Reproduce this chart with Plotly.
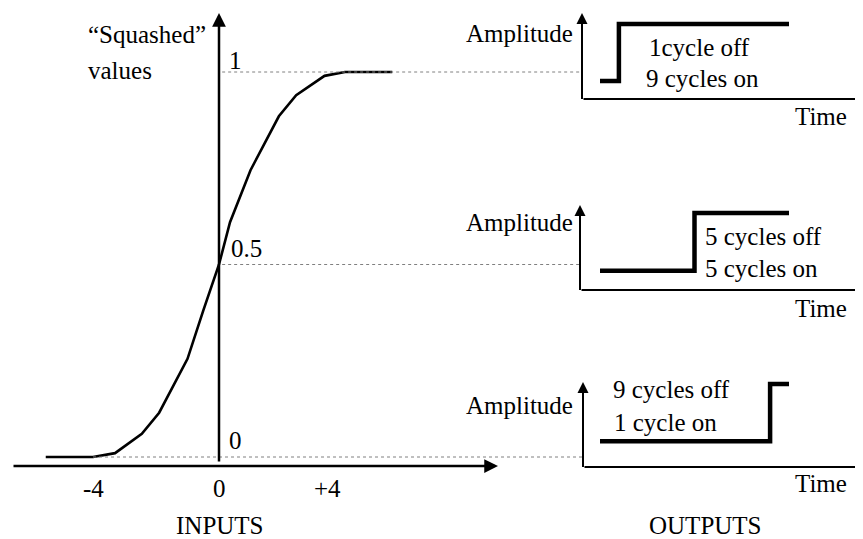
import plotly.graph_objects as go

W, H = 863, 539

# ---- Data: sigmoid ("squashed") curve ----
inputs = [-5.5, -4, -3.3, -2.45, -1.9, -1.0, -0.5, 0, 0.35, 1.0, 1.9, 2.45, 3.35, 4, 5.5]
squashed = [0, 0, 0.01, 0.06, 0.115, 0.255, 0.38, 0.5, 0.61, 0.745, 0.885, 0.94, 0.99, 1, 1]
input_tick_labels = ["-4", "0", "+4"]
squash_levels = [1, 0.5, 0]
squash_labels = ["1", "0.5", "0"]

# ---- Data: output pulse trains (out of 10 cycles) ----
cycles_total = 10
cycles_off = [1, 5, 9]
amp_low = [0.24, 0.25, 0.31]
amp_high = [1, 1, 1]
label_off = ["1cycle off", "5 cycles off", "9 cycles off"]
label_on = ["9 cycles on", "5 cycles on", "1 cycle on"]

FONT = "Liberation Serif"
FS = 25

# The page body has an 8px margin: the figure's top-left sits at (8, 8).
OFF = 8

# ---- Layout geometry (page pixels) ----
X0, XS = 219, 31.5      # left chart: input 0 at px 219, 31.5 px per unit
Y0, YS = 457, 385       # left chart: value 0 at px 457, 385 px per unit
CX0, CXS = 600, 18.9    # right charts: cycle 0 at px 600
panel_axis_px = [99, 290, 467]
panel_high_px = [24, 213, 384]
panel_yaxis_px = [582, 580, 583]
panel_arrow_top = [13, 205, 382]


def lx(p):
    return (p - X0) / XS


def ly(p):
    return (Y0 - p) / YS


def cx(p):
    return (p - CX0) / CXS


def paper(x, y):
    return (x - OFF) / W, 1 - (y - OFF) / H


fig = go.Figure()

# Sigmoid
fig.add_trace(go.Scatter(x=inputs, y=squashed, mode="lines",
                         line=dict(color="black", width=2.6),
                         xaxis="x", yaxis="y", hoverinfo="skip"))

# Dotted guide lines from the sigmoid levels to output panels
dot_ends = [lx(582), lx(580), lx(583)]
dot_starts = [0.1, 0.1, -4]
for lvl, xs, xe in zip(squash_levels, dot_starts, dot_ends):
    fig.add_trace(go.Scatter(x=[xs, xe], y=[lvl, lvl], mode="lines",
                             line=dict(color="#808080", width=1, dash="dot"),
                             xaxis="x", yaxis="y", hoverinfo="skip"))

# Output step functions
yaxes = ["y2", "y3", "y4"]
for i in range(3):
    fig.add_trace(go.Scatter(
        x=[0, cycles_off[i], cycles_off[i], cycles_total],
        y=[amp_low[i], amp_low[i], amp_high[i], amp_high[i]],
        mode="lines", line=dict(color="black", width=4.5),
        xaxis="x2", yaxis=yaxes[i], hoverinfo="skip"))

annotations = []

# Left chart axis arrows
annotations.append(dict(x=0, y=ly(13), ax=0, ay=ly(463),
                        xref="x", yref="y", axref="x", ayref="y", text="",
                        showarrow=True, arrowhead=2, arrowsize=1.1, arrowwidth=2.5,
                        arrowcolor="black", standoff=0))
annotations.append(dict(x=lx(498), y=ly(466), ax=lx(12), ay=ly(466),
                        xref="x", yref="y", axref="x", ayref="y", text="",
                        showarrow=True, arrowhead=2, arrowsize=1.1, arrowwidth=2.5,
                        arrowcolor="black", standoff=0))

# Right panels axis arrows
for i in range(3):
    a = panel_axis_px[i]
    s = panel_axis_px[i] - panel_high_px[i]
    xc = cx(panel_yaxis_px[i])
    annotations.append(dict(x=xc, y=(a - panel_arrow_top[i]) / s, ax=xc, ay=-1.5 / s,
                            xref="x2", yref=yaxes[i], axref="x2", ayref=yaxes[i], text="",
                            showarrow=True, arrowhead=2, arrowsize=1.1, arrowwidth=2,
                            arrowcolor="black", standoff=0))
    annotations.append(dict(x=cx(866), y=0, ax=xc, ay=0,
                            xref="x2", yref=yaxes[i], axref="x2", ayref=yaxes[i], text="",
                            showarrow=True, arrowhead=2, arrowsize=1.1, arrowwidth=2,
                            arrowcolor="black", standoff=0))


def text(t, x, y, xanchor="center"):
    xp, yp = paper(x, y)
    annotations.append(dict(x=xp, y=yp, xref="paper", yref="paper", text=t,
                            showarrow=False, xanchor=xanchor, yanchor="middle",
                            font=dict(family=FONT, size=FS, color="black")))


text("\u201cSquashed\u201d", 86, 35, "left")
text("values", 86, 70, "left")
text(squash_labels[0], 227, 60, "left")
text(squash_labels[1], 229, 248, "left")
text(squash_labels[2], 227, 440, "left")
text(input_tick_labels[0], 93, 488)
text(input_tick_labels[1], 219, 488)
text(input_tick_labels[2], 327, 488)
text("INPUTS", 220, 525)
text("OUTPUTS", 705, 525)

amp_y = [33, 222, 405]
time_y = [117, 308, 483]
off_xy = [(647, 47), (703, 237), (611, 389)]
on_xy = [(644, 79), (703, 268), (612, 422)]
for i in range(3):
    text("Amplitude", 575, amp_y[i], "right")
    text("Time", 849, time_y[i], "right")
    text(label_off[i], off_xy[i][0], off_xy[i][1], "left")
    text(label_on[i], on_xy[i][0], on_xy[i][1], "left")

layout = dict(
    width=W, height=H,
    margin=dict(l=0, r=0, t=0, b=0, pad=0),
    paper_bgcolor="white", plot_bgcolor="rgba(0,0,0,0)",
    showlegend=False,
    font=dict(family=FONT, size=FS, color="black"),
    annotations=annotations,
    xaxis=dict(domain=[0, 1], range=[lx(OFF), lx(OFF + W)], visible=False),
    yaxis=dict(domain=[0, 1], range=[ly(OFF + H), ly(OFF)], visible=False, anchor="x"),
    xaxis2=dict(domain=[0, 1], range=[cx(OFF), cx(OFF + W)], visible=False, anchor="y2"),
)
for i, name in enumerate(["yaxis2", "yaxis3", "yaxis4"]):
    a = panel_axis_px[i]
    s = panel_axis_px[i] - panel_high_px[i]
    layout[name] = dict(domain=[0, 1], range=[(a - OFF - H) / s, (a - OFF) / s],
                        visible=False, anchor="x2")

fig.update_layout(**layout)
fig.write_html("out.html")
